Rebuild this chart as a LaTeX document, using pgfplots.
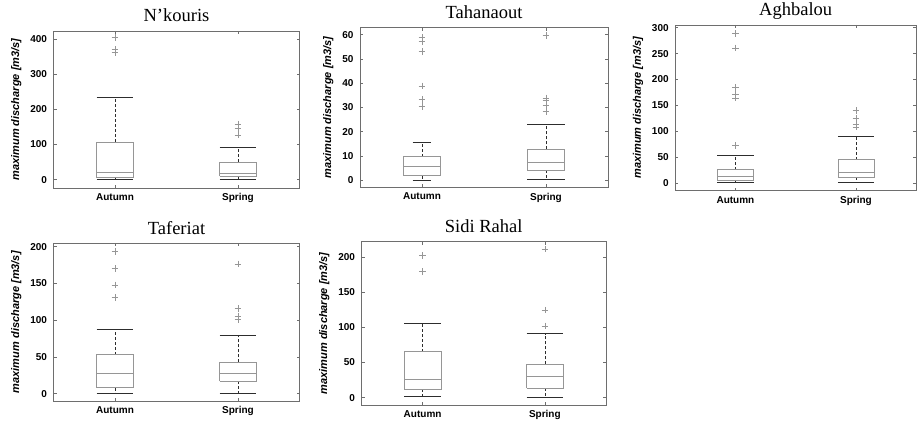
\documentclass[border=0pt]{standalone}
\usepackage{pgfplots}
\pgfplotsset{compat=1.18}
\usepackage{fontspec}
\setmainfont{Liberation Serif}
\setsansfont{Liberation Sans}
\definecolor{boxgray}{RGB}{150,150,150}
\definecolor{framegray}{RGB}{110,110,110}
\definecolor{capcol}{RGB}{45,45,45}
\pgfplotsset{
  boxst/.style={draw=boxgray, line width=0.6pt, mark=none},
  whst/.style={draw=capcol, line width=0.6pt, densely dashed, mark=none},
  capst/.style={draw=capcol, line width=0.9pt, mark=none},
  outst/.style={only marks, mark=+, mark size=3.3pt, mark options={draw=boxgray, line width=0.6pt}},
  panel/.style={
    scale only axis,
    anchor=south west,
    xmin=0.5, xmax=2.5,
    xtick={1,2}, xticklabels={Autumn,Spring},
    tick align=inside,
    major tick length=3pt,
    tick style={framegray, line width=0.5pt},
    axis line style={framegray, line width=0.8pt},
    /pgf/number format/assume math mode=true,
    ticklabel style={font=\sffamily\bfseries\fontsize{10}{12}\selectfont},
    xticklabel style={yshift=-2pt},
    yticklabel style={xshift=-3pt},
    ylabel={maximum discharge [m3/s]},
    ylabel shift=2pt,
    ylabel style={font=\sffamily\bfseries\itshape\fontsize{11}{13}\selectfont},
    title style={font=\fontsize{18.5}{20}\selectfont, at={(0.5,1)}, anchor=base, yshift=3pt},
  },
}
% #1 centre, #2 left, #3 right, #4 lower whisker, #5 Q1, #6 median, #7 Q3, #8 upper whisker, #9 outliers
\newcommand{\bx}[9]{%
  \addplot[whst] coordinates {(#1,#7) (#1,#8)};
  \addplot[whst] coordinates {(#1,#5) (#1,#4)};
  \addplot[boxst] coordinates {(#2,#5) (#3,#5) (#3,#7) (#2,#7) (#2,#5)};
  \addplot[boxst] coordinates {(#2,#6) (#3,#6)};
  \addplot[capst] coordinates {(#2,#8) (#3,#8)};
  \addplot[capst] coordinates {(#2,#4) (#3,#4)};
  \addplot[outst] coordinates {#9};
}
\begin{document}
\begin{tikzpicture}
\path[use as bounding box] (0pt,0pt) rectangle (917pt,424pt);

% N'kouris
\begin{axis}[panel, at={(53.5pt,236pt)}, width=246pt, height=157pt,
  ymin=-24, ymax=424, ytick={0,100,200,300,400}, title={N’kouris}]
\bx{1}{0.85}{1.15}{1}{5.7}{22}{107.6}{233}{(1,405) (1,371) (1,363)}
\bx{2}{1.85}{2.15}{1}{9.5}{18}{50.5}{92.4}{(2,158) (2,146) (2,127)}
\end{axis}

% Tahanaout
\begin{axis}[panel, at={(360pt,236.7pt)}, width=248pt, height=159.6pt,
  ymin=-3, ymax=62.9, ytick={0,10,...,60}, title={Tahanaout}]
\addplot[whst] coordinates {(1,9.6) (1,15.5)};
\addplot[whst] coordinates {(1,1.8) (1,0)};
\addplot[boxst] coordinates {(0.85,1.8) (1.15,1.8) (1.15,9.6) (0.85,9.6) (0.85,1.8)};
\addplot[boxst] coordinates {(0.85,5.8) (1.15,5.8)};
\addplot[capst] coordinates {(0.925,15.5) (1.075,15.5)};
\addplot[capst] coordinates {(0.925,0) (1.075,0)};
\addplot[outst] coordinates {(1,58.9) (1,57.1) (1,53) (1,38.9) (1,33.3) (1,30.3)};
\bx{2}{1.85}{2.15}{0.1}{4}{7.3}{12.7}{23}{(2,59.7) (2,33.9) (2,33) (2,31) (2,28.2)}
\end{axis}

% Aghbalou
\begin{axis}[panel, at={(675.2pt,233.3pt)}, width=241pt, height=165.7pt,
  ymin=-14, ymax=305, ytick={0,50,...,300}, title={Aghbalou}]
\bx{1}{0.85}{1.15}{1.3}{5.8}{12.8}{26.3}{53.3}{(1,289) (1,260.8) (1,185) (1,171.6) (1,164.4) (1,72.6)}
\bx{2}{1.85}{2.15}{1.3}{11.6}{20.6}{45.6}{91.2}{(2,140) (2,125) (2,114) (2,109)}
\end{axis}

% Taferiat
\begin{axis}[panel, at={(53.5pt,23pt)}, width=246pt, height=157.7pt,
  ymin=-10, ymax=204.5, ytick={0,50,...,200}, title={Taferiat}]
\bx{1}{0.85}{1.15}{0}{8.2}{27.2}{53.1}{87.5}{(1,193.7) (1,170) (1,147.8) (1,131)}
\bx{2}{1.85}{2.15}{0}{16.8}{27.7}{42.6}{78.9}{(2,176.4) (2,116) (2,105.7) (2,101)}
\end{axis}

% Sidi Rahal
\begin{axis}[panel, at={(361.5pt,19pt)}, width=244.5pt, height=163.3pt,
  ymin=-10.5, ymax=222, ytick={0,50,...,200}, title={Sidi Rahal}]
\bx{1}{0.85}{1.15}{1.4}{11.9}{26.1}{65.6}{105}{(1,202) (1,179.6)}
\bx{2}{1.85}{2.15}{0}{13.3}{30}{47.5}{91.2}{(2,211.4) (2,124.5) (2,102)}
\end{axis}
\end{tikzpicture}
\end{document}
